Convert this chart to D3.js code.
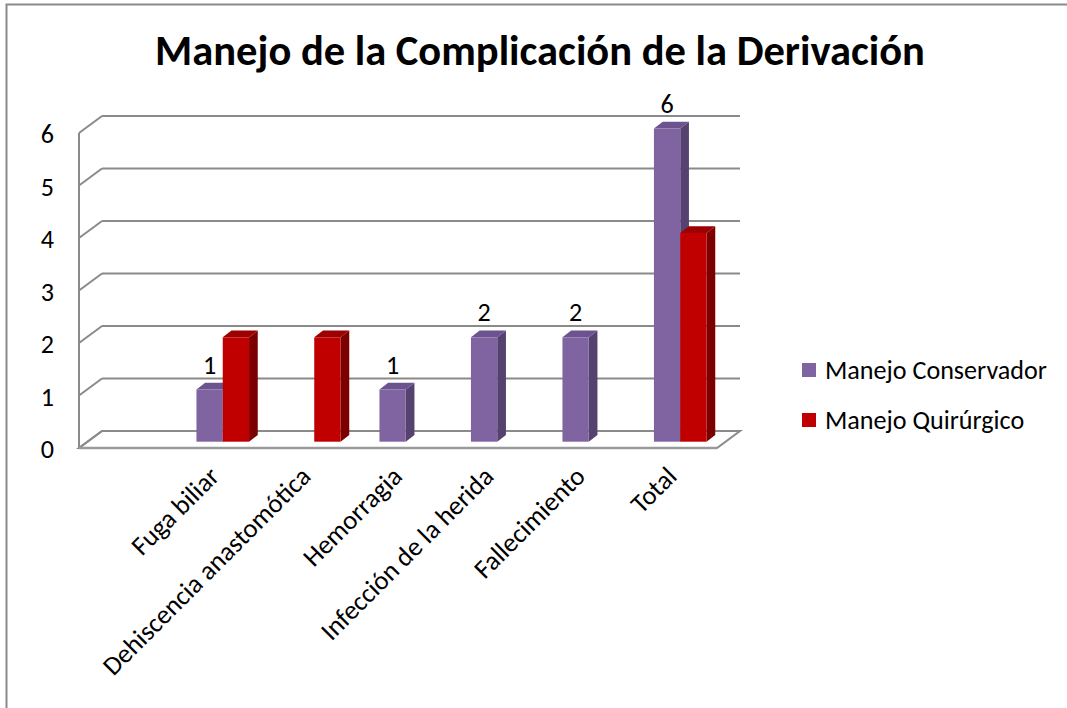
<!DOCTYPE html>
<html>
<head>
<meta charset="utf-8">
<script src="https://cdn.jsdelivr.net/npm/d3@7/dist/d3.min.js"></script>
<style>
  html, body { margin: 0; padding: 0; background: #fff; }
  svg { display: block; }
  text { font-family: Carlito, Lato, "Open Sans", sans-serif; fill: #000; }
</style>
</head>
<body>
<svg id="chart" width="1067" height="708"></svg>
<script>
// ---- data ----
const title = "Manejo de la Complicación de la Derivación";
const categories = ["Fuga biliar", "Dehiscencia anastomótica", "Hemorragia", "Infección de la herida", "Fallecimiento", "Total"];
const seriesNames = ["Manejo Conservador", "Manejo Quirúrgico"];
const conservador = [1, 0, 1, 2, 2, 6];
const quirurgico = [2, 2, 0, 0, 0, 4];
const yTicks = [0, 1, 2, 3, 4, 5, 6];

// ---- styles ----
const colors = {
  "Manejo Conservador": { front: "#8064A2", top: "#6B5390", side: "#56426F" },
  "Manejo Quirúrgico": { front: "#C00000", top: "#9C0000", side: "#7C0000" }
};
const gridColor = "#8A8A8A";

const svg = d3.select("#chart");

// outer border
svg.append("rect").attr("x", 6.5).attr("y", 4.5).attr("width", 1100).attr("height", 800)
  .attr("fill", "none").attr("stroke", "#8a8a8a").attr("stroke-width", 2);

// ---- 3D geometry ----
const wallDX = 23, wallDY = 17;          // back wall -> front edge offset
const yWall = d3.scaleLinear().domain([0, 6]).range([431, 116]);
const wallX0 = 102, wallX1 = 740;
const barDX = 8.7, barDY = 6.7;          // bar depth
const yBar = d3.scaleLinear().domain([0, 6]).range([441.7, 128.5]);
const x = d3.scaleBand().domain(categories).range([177, 726]);
const xs = d3.scaleBand().domain(seriesNames).range([-26.3, 26.3]);

// floor
const g = svg.append("g");
g.append("polygon")
  .attr("points", [[wallX0 - wallDX, yWall(0) + wallDY], [wallX1 - wallDX, yWall(0) + wallDY], [wallX1, yWall(0)], [wallX0, yWall(0)]].map(p => p.join(",")).join(" "))
  .attr("fill", "#fff").attr("stroke", gridColor).attr("stroke-width", 2);

// gridlines on back wall + side wall diagonals
yTicks.forEach(t => {
  g.append("line").attr("x1", wallX0).attr("x2", wallX1).attr("y1", yWall(t)).attr("y2", yWall(t))
    .attr("stroke", gridColor).attr("stroke-width", 2);
  g.append("line").attr("x1", wallX0 - wallDX).attr("x2", wallX0).attr("y1", yWall(t) + wallDY).attr("y2", yWall(t))
    .attr("stroke", gridColor).attr("stroke-width", 2);
});
g.append("line").attr("x1", wallX0 - wallDX).attr("x2", wallX0 - wallDX)
  .attr("y1", yWall(6) + wallDY).attr("y2", yWall(0) + wallDY)
  .attr("stroke", gridColor).attr("stroke-width", 2);
// front floor edge (slightly heavier)
g.append("line").attr("x1", wallX0 - wallDX).attr("x2", wallX1 - wallDX)
  .attr("y1", yWall(0) + wallDY).attr("y2", yWall(0) + wallDY)
  .attr("stroke", "#9a9a9a").attr("stroke-width", 2.5);

// ---- text size fitting ----
function fit(sel, base, target) {
  sel.style("font-size", base + "px");
  const w = sel.node().getComputedTextLength();
  const fs = base * target / w;
  sel.style("font-size", fs + "px");
  return fs;
}

// legend (measured first to determine label font size)
const legend = svg.append("g");
let fs = 24;
seriesNames.forEach((s, i) => {
  const cy = 370 + i * 50;
  legend.append("rect").attr("x", 802).attr("y", cy - 7).attr("width", 14).attr("height", 14)
    .attr("fill", colors[s].front);
  const t = legend.append("text").attr("x", 825).attr("y", cy).attr("dy", "0.35em").text(s);
  if (i === 0) fs = fit(t, 24, 222);
  else t.style("font-size", fs + "px");
});

// y tick labels
svg.append("g").selectAll("text").data(yTicks).join("text")
  .attr("x", 54).attr("y", d => yWall(d) + wallDY + 1).attr("dy", "0.35em")
  .attr("text-anchor", "end").style("font-size", fs + "px").text(d => d);

// ---- bars ----
const series = [
  { name: seriesNames[0], values: conservador },
  { name: seriesNames[1], values: quirurgico }
];
const barsG = svg.append("g");
series.forEach(s => {
  const c = colors[s.name];
  categories.forEach((cat, i) => {
    const v = s.values[i];
    if (!v) return;
    const x0 = x(cat) + x.bandwidth() / 2 + xs(s.name);
    const w = xs.bandwidth();
    const yT = yBar(v), yB = yBar(0);
    const bg = barsG.append("g");
    bg.append("polygon").attr("points",
      [[x0 + w, yT], [x0 + w + barDX, yT - barDY], [x0 + w + barDX, yB - barDY], [x0 + w, yB]].map(p => p.join(",")).join(" "))
      .attr("fill", c.side);
    bg.append("polygon").attr("points",
      [[x0, yT], [x0 + w, yT], [x0 + w + barDX, yT - barDY], [x0 + barDX, yT - barDY]].map(p => p.join(",")).join(" "))
      .attr("fill", c.top);
    bg.append("rect").attr("x", x0).attr("y", yT).attr("width", w).attr("height", yB - yT).attr("fill", c.front);
  });
});

// data labels (Manejo Conservador)
svg.append("g").selectAll("text").data(categories.map((c, i) => ({ c, v: conservador[i] })).filter(d => d.v > 0))
  .join("text")
  .attr("x", d => x(d.c) + x.bandwidth() / 2 + xs(seriesNames[0]) + xs.bandwidth() / 2)
  .attr("y", d => yBar(d.v) - 25).attr("dy", "0.35em")
  .attr("text-anchor", "middle").style("font-size", fs + "px").text(d => d.v);

// category labels
svg.append("g").selectAll("text").data(categories).join("text")
  .attr("transform", d => `translate(${x(d) + x.bandwidth() / 2 - 2},478) rotate(-45)`)
  .attr("text-anchor", "end").style("font-size", (fs * 1.02) + "px").text(d => d);

// title
const tt = svg.append("text").attr("x", 540).attr("y", 65).attr("text-anchor", "middle")
  .style("font-weight", "bold").text(title);
fit(tt, 40, 770);
</script>
</body>
</html>
